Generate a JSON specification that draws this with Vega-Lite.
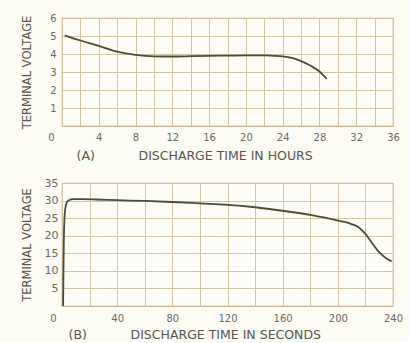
{
  "$schema": "https://vega.github.io/schema/vega-lite/v6.json",
  "background": "#fcfbf4",
  "padding": {"left": 20, "top": 12, "right": 5, "bottom": 0},
  "spacing": 13,
  "config": {
    "view": {"stroke": "#c4b38c", "strokeWidth": 1.2, "fill": "#fdfcf6"},
    "axis": {
      "grid": true,
      "gridColor": "#d3c5a2",
      "gridWidth": 1,
      "gridOpacity": 1,
      "domain": false,
      "ticks": false,
      "labelFont": "DejaVu Sans",
      "labelFontSize": 10,
      "labelColor": "#6a6a62",
      "labelFlush": false,
      "labelOverlap": false,
      "titleFont": "DejaVu Sans",
      "titleFontWeight": "normal",
      "titleColor": "#55554d"
    }
  },
  "datasets": {
    "hours": [
      {"t": 0.3, "v": 5.03}, {"t": 2, "v": 4.75}, {"t": 4, "v": 4.45}, {"t": 6, "v": 4.13},
      {"t": 8, "v": 3.95}, {"t": 10, "v": 3.87}, {"t": 12, "v": 3.86}, {"t": 14, "v": 3.88},
      {"t": 16, "v": 3.9}, {"t": 18, "v": 3.91}, {"t": 20, "v": 3.92}, {"t": 22, "v": 3.92},
      {"t": 23, "v": 3.9}, {"t": 24, "v": 3.87}, {"t": 25, "v": 3.78}, {"t": 26, "v": 3.6},
      {"t": 27, "v": 3.36}, {"t": 28, "v": 3.03}, {"t": 28.5, "v": 2.78}, {"t": 28.8, "v": 2.62}
    ],
    "seconds": [
      {"t": 0.8, "v": 0}, {"t": 1, "v": 8}, {"t": 1.3, "v": 18}, {"t": 1.8, "v": 25},
      {"t": 2.5, "v": 28}, {"t": 3.5, "v": 29.5}, {"t": 5, "v": 30.1}, {"t": 8, "v": 30.4},
      {"t": 15, "v": 30.4}, {"t": 25, "v": 30.3}, {"t": 40, "v": 30.1}, {"t": 60, "v": 29.9},
      {"t": 80, "v": 29.6}, {"t": 100, "v": 29.2}, {"t": 120, "v": 28.8}, {"t": 140, "v": 28.1},
      {"t": 160, "v": 27.1}, {"t": 180, "v": 25.9}, {"t": 200, "v": 24.3}, {"t": 210, "v": 23.3},
      {"t": 215, "v": 22.4}, {"t": 220, "v": 20.5}, {"t": 225, "v": 17.8}, {"t": 230, "v": 15.3},
      {"t": 235, "v": 13.6}, {"t": 239, "v": 12.7}
    ]
  },
  "vconcat": [
    {
      "width": 331,
      "height": 108,
      "data": {"name": "hours"},
      "mark": {"type": "line", "color": "#4a4c36", "strokeWidth": 1.8, "interpolate": "monotone"},
      "encoding": {
        "x": {
          "field": "t", "type": "quantitative",
          "scale": {"domain": [0, 36], "nice": false},
          "axis": {
            "values": [0, 2, 4, 6, 8, 10, 12, 14, 16, 18, 20, 22, 24, 26, 28, 30, 32, 34, 36],
            "labelExpr": "datum.value % 4 == 0 ? datum.label : ''",
            "labelPadding": 6,
            "labelOffset": {"condition": {"test": "datum.value == 0", "value": -11}, "value": 0},
            "title": "(A)\u00a0\u00a0\u00a0\u00a0\u00a0\u00a0\u00a0\u00a0\u00a0\u00a0\u00a0DISCHARGE TIME IN HOURS",
            "titleFontSize": 12.5,
            "titleAlign": "left",
            "titleAnchor": "start",
            "titleBaseline": "top",
            "titleX": 14,
            "titleY": 23
          }
        },
        "y": {
          "field": "v", "type": "quantitative",
          "scale": {"domain": [0, 6], "nice": false},
          "axis": {
            "values": [1, 2, 3, 4, 5, 6],
            "labelPadding": 6,
            "title": "TERMINAL VOLTAGE",
            "titleFontSize": 11.5,
            "titleX": -30,
            "titleY": 54,
            "titleAlign": "center"
          }
        }
      }
    },
    {
      "width": 331,
      "height": 123,
      "data": {"name": "seconds"},
      "mark": {"type": "line", "color": "#4a4c36", "strokeWidth": 1.8, "interpolate": "monotone"},
      "encoding": {
        "x": {
          "field": "t", "type": "quantitative",
          "scale": {"domain": [0, 240], "nice": false},
          "axis": {
            "values": [0, 20, 40, 60, 80, 100, 120, 140, 160, 180, 200, 220, 240],
            "labelExpr": "datum.value % 40 == 0 ? datum.label : ''",
            "labelPadding": 7,
            "labelOffset": {"condition": {"test": "datum.value == 0", "value": -9}, "value": 0},
            "title": "(B)\u00a0\u00a0\u00a0\u00a0\u00a0\u00a0\u00a0\u00a0\u00a0\u00a0\u00a0DISCHARGE TIME IN SECONDS",
            "titleFontSize": 12.5,
            "titleAlign": "left",
            "titleAnchor": "start",
            "titleBaseline": "top",
            "titleX": 6,
            "titleY": 22
          }
        },
        "y": {
          "field": "v", "type": "quantitative",
          "scale": {"domain": [0, 35], "nice": false},
          "axis": {
            "values": [5, 10, 15, 20, 25, 30, 35],
            "labelPadding": 4,
            "labelFontSize": 11,
            "title": "TERMINAL VOLTAGE",
            "titleFontSize": 11.5,
            "titleX": -30,
            "titleY": 61.5,
            "titleAlign": "center"
          }
        }
      }
    }
  ]
}
